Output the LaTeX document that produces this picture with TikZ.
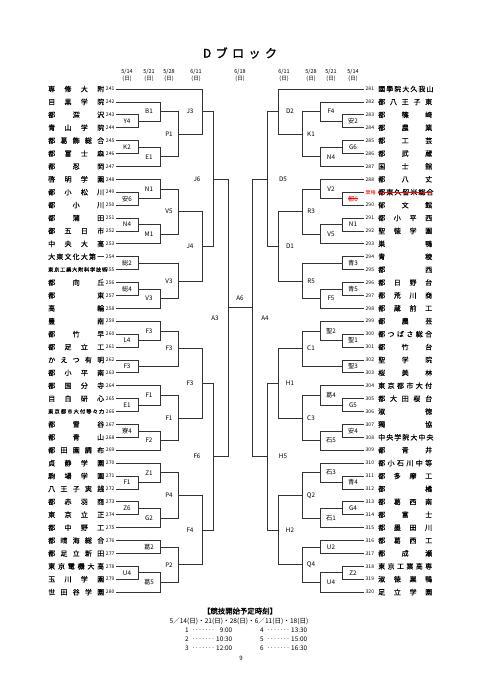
\documentclass[tikz,border=0pt]{standalone}
\usepackage{fontspec}
\setmainfont{Noto Sans CJK JP}
\newfontfamily\boldj{Noto Sans CJK JP}[FakeBold=1.5]
\newfontfamily\semij{Noto Sans CJK JP}[FakeBold=0.25]
\usetikzlibrary{calc}
\tikzset{
 br/.style={draw=black!80, line width=0.65pt},
 lab/.style={font=\fontsize{6.3}{7}\selectfont, inner sep=0pt},
 num/.style={font=\fontsize{5}{6}\selectfont, inner sep=0pt},
 nm/.style={font=\semij\fontsize{7}{8}\selectfont, inner sep=0pt},
 sm/.style={font=\semij\fontsize{5.2}{6}\selectfont},
 hdr/.style={font=\fontsize{5.5}{6}\selectfont, inner sep=0pt},
 tm/.style={font=\fontsize{6.4}{7}\selectfont, inner sep=0pt, anchor=west},
}
\newcommand\tmL[3]{%
 \pgfmathsetmacro\yy{89+12.9*(#1-241)}%
 \coordinate (t#1) at (116,\yy);
 \node[num, anchor=east] (n#1) at (114.5,\yy) {#1};
 \node[nm, anchor=west, #3] (s#1) at (48,\yy) {\makebox[56pt][s]{#2}};
}
\newcommand\tmR[3]{%
 \pgfmathsetmacro\yy{89+12.9*(#1-281)}%
 \coordinate (t#1) at (363.5,\yy);
 \node[num, anchor=west] (n#1) at (365.5,\yy) {#1};
 \node[nm, anchor=west, #3] (s#1) at (378,\yy) {\makebox[54pt][s]{#2}};
}
\newcommand\mL[5]{%
 \draw[br] (#3) -- (#3 -| cL#2) -- (#4 -| cL#2) -- (#4);
 \coordinate (#1) at ($(#3 -| cL#2)!0.5!(#4 -| cL#2)$);
 \node[lab] (#1l) at (#1 -| lL#2) {#5};
}
\newcommand\mR[5]{%
 \draw[br] (#3) -- (#3 -| cR#2) -- (#4 -| cR#2) -- (#4);
 \coordinate (#1) at ($(#3 -| cR#2)!0.5!(#4 -| cR#2)$);
 \node[lab] (#1l) at (#1 -| lR#2) {#5};
}
\newcommand\dotsline{\leaders\hbox to 3.3pt{\hss·\hss}\hfill}
\newcommand\tline[2]{\makebox[47pt][l]{#1\dotsline\makebox[17pt][r]{#2}}}
\begin{document}
\begin{tikzpicture}[x=1pt,y=-1pt]
\useasboundingbox (0,0) rectangle (481,680);
\fill[white] (0,0) rectangle (481,680);
% columns
\coordinate (cL1) at (138,0); \coordinate (cL2) at (160,0); \coordinate (cL3) at (178,0);
\coordinate (cL4) at (202,0); \coordinate (cL5) at (213,0); \coordinate (cLA) at (228,0);
\coordinate (lL1) at (127,0); \coordinate (lL2) at (149,0); \coordinate (lL3) at (169,0);
\coordinate (lL4) at (190,0); \coordinate (lL5) at (197,0); \coordinate (lLA) at (215,0);
\coordinate (cR1) at (342,0); \coordinate (cR2) at (320,0); \coordinate (cR3) at (302,0);
\coordinate (cR4) at (278,0); \coordinate (cR5) at (267,0); \coordinate (cRA) at (252,0);
\coordinate (lR1) at (353,0); \coordinate (lR2) at (331,0); \coordinate (lR3) at (311,0);
\coordinate (lR4) at (290,0); \coordinate (lR5) at (283,0); \coordinate (lRA) at (265,0);
% title and dates
\node[font=\boldj\fontsize{12}{14}\selectfont, inner sep=0pt] (title) at (240,53) {\makebox[74pt][s]{D ブ ロ ッ ク}};
\foreach \x/\d [count=\i] in {127/5\slash14,149/5\slash21,169/5\slash28,196/6\slash11,240/6\slash18,284/6\slash11,311/5\slash28,331/5\slash21,353/5\slash14}{
 \node[hdr] (d\i) at (\x,72) {\d};
 \node[hdr] (w\i) at (\x,79) {(日)};
}
% left teams
\tmL{241}{専 修 大 附}{}
\tmL{242}{目 黒 学 院}{}
\tmL{243}{都 深 沢}{}
\tmL{244}{青 山 学 院}{}
\tmL{245}{都 葛 飾 総 合}{}
\tmL{246}{都 富 士 森}{}
\tmL{247}{都 忍 岡}{}
\tmL{248}{啓 明 学 園}{}
\tmL{249}{都 小 松 川}{}
\tmL{250}{都 小 川}{}
\tmL{251}{都 蒲 田}{}
\tmL{252}{都 五 日 市}{}
\tmL{253}{中 央 大 高}{}
\tmL{254}{大 東 文 化 大 第 一}{}
\tmL{255}{東 京 工 業 大 附 科 学 技 術}{sm}
\tmL{256}{都 向 丘}{}
\tmL{257}{都 東}{}
\tmL{258}{高 輪}{}
\tmL{259}{豊 南}{}
\tmL{260}{都 竹 早}{}
\tmL{261}{都 足 立 工}{}
\tmL{262}{か え つ 有 明}{}
\tmL{263}{都 小 平 南}{}
\tmL{264}{都 国 分 寺}{}
\tmL{265}{目 白 研 心}{}
\tmL{266}{東 京 都 市 大 付 等 々 力}{sm}
\tmL{267}{都 雪 谷}{}
\tmL{268}{都 青 山}{}
\tmL{269}{都 田 園 調 布}{}
\tmL{270}{貞 静 学 園}{}
\tmL{271}{駒 場 学 園}{}
\tmL{272}{八 王 子 実 践}{}
\tmL{273}{都 赤 羽 商}{}
\tmL{274}{東 京 立 正}{}
\tmL{275}{都 中 野 工}{}
\tmL{276}{都 晴 海 総 合}{}
\tmL{277}{都 足 立 新 田}{}
\tmL{278}{東 京 電 機 大 高}{}
\tmL{279}{玉 川 学 園}{}
\tmL{280}{世 田 谷 学 園}{}
% right teams
\tmR{281}{國 學 院 大 久 我 山}{}
\tmR{282}{都 八 王 子 東}{}
\tmR{283}{都 篠 崎}{}
\tmR{284}{都 農 業}{}
\tmR{285}{都 工 芸}{}
\tmR{286}{都 武 蔵}{}
\tmR{287}{国 士 舘}{}
\tmR{288}{都 八 丈}{}
\pgfmathsetmacro\yy{89+12.9*8}
\coordinate (t289) at (363.5,\yy);
\node[num, anchor=west, text=red] (n289) at (365.5,\yy) {棄権};
\node[nm, anchor=west] (s289) at (378,\yy) {\makebox[54pt][s]{都 東 久 留 米 総 合}};
\draw[red, line width=0.5pt] (s289.west) -- (s289.east);
\tmR{290}{郁 文 館}{}
\tmR{291}{都 小 平 西}{}
\tmR{292}{聖 徳 学 園}{}
\tmR{293}{巣 鴨}{}
\tmR{294}{青 稜}{}
\tmR{295}{都 西}{}
\tmR{296}{都 日 野 台}{}
\tmR{297}{都 荒 川 商}{}
\tmR{298}{都 蔵 前 工}{}
\tmR{299}{都 農 芸}{}
\tmR{300}{都 つ ば さ 総 合}{}
\tmR{301}{都 竹 台}{}
\tmR{302}{聖 学 院}{}
\tmR{303}{桜 美 林}{}
\tmR{304}{東 京 都 市 大 付}{}
\tmR{305}{都 大 田 桜 台}{}
\tmR{306}{淑 徳}{}
\tmR{307}{獨 協}{}
\tmR{308}{中 央 学 院 大 中 央}{}
\tmR{309}{都 青 井}{}
\tmR{310}{都 小 石 川 中 等}{}
\tmR{311}{都 多 摩 工}{}
\tmR{312}{都 橘}{}
\tmR{313}{都 葛 西 南}{}
\tmR{314}{都 富 士}{}
\tmR{315}{都 墨 田 川}{}
\tmR{316}{都 葛 西 工}{}
\tmR{317}{都 成 瀬}{}
\tmR{318}{東 京 工 業 高 専}{}
\tmR{319}{淑 徳 巣 鴨}{}
\tmR{320}{足 立 学 園}{}
% left bracket
\mL{mY4}{1}{t243}{t244}{Y4}
\mL{mB1}{2}{t242}{mY4}{B1}
\mL{mK2}{1}{t245}{t246}{K2}
\mL{mE1}{2}{mK2}{t247}{E1}
\mL{mP1}{3}{mB1}{mE1}{P1}
\mL{mJ3}{4}{t241}{mP1}{J3}
\mL{mA6}{1}{t249}{t250}{安6}
\mL{mN1}{2}{t248}{mA6}{N1}
\mL{mN4}{1}{t251}{t252}{N4}
\mL{mM1}{2}{mN4}{t253}{M1}
\mL{mV5}{3}{mN1}{mM1}{V5}
\mL{mS2}{1}{t254}{t255}{総2}
\mL{mS4}{1}{t256}{t257}{総4}
\mL{mV3b}{2}{mS4}{t258}{V3}
\mL{mV3a}{3}{mS2}{mV3b}{V3}
\mL{mJ4}{4}{mV5}{mV3a}{J4}
\mL{mJ6}{5}{mJ3}{mJ4}{J6}
\mL{mL4}{1}{t260}{t261}{L4}
\mL{mF3b}{2}{t259}{mL4}{F3}
\mL{mF3c}{1}{t262}{t263}{F3}
\mL{mF3a}{3}{mF3b}{mF3c}{F3}
\mL{mE1b}{1}{t265}{t266}{E1}
\mL{mF1b}{2}{t264}{mE1b}{F1}
\mL{mR4}{1}{t267}{t268}{寮4}
\mL{mF2}{2}{mR4}{t269}{F2}
\mL{mF1a}{3}{mF1b}{mF2}{F1}
\mL{mF3d}{4}{mF3a}{mF1a}{F3}
\mL{mF1c}{1}{t271}{t272}{F1}
\mL{mZ1}{2}{t270}{mF1c}{Z1}
\mL{mZ6}{1}{t273}{t274}{Z6}
\mL{mG2}{2}{mZ6}{t275}{G2}
\mL{mP4}{3}{mZ1}{mG2}{P4}
\mL{mK2b}{2}{t276}{t277}{葛2}
\mL{mU4}{1}{t278}{t279}{U4}
\mL{mK5}{2}{mU4}{t280}{葛5}
\mL{mP2}{3}{mK2b}{mK5}{P2}
\mL{mF4}{4}{mP4}{mP2}{F4}
\mL{mF6}{5}{mF3d}{mF4}{F6}
\mL{mA3}{A}{mJ6}{mF6}{A3}
% right bracket
\mR{rS2}{1}{t283}{t284}{安2}
\mR{rF4}{2}{t282}{rS2}{F4}
\mR{rG6}{1}{t285}{t286}{G6}
\mR{rN4}{2}{rG6}{t287}{N4}
\mR{rK1}{3}{rF4}{rN4}{K1}
\mR{rD2}{4}{t281}{rK1}{D2}
\mR{rT6}{1}{t289}{t290}{\textcolor{red}{都6}}
\draw[red, line width=0.5pt] (rT6l.west) -- (rT6l.east);
\mR{rV2}{2}{t288}{rT6}{V2}
\mR{rN1}{1}{t291}{t292}{N1}
\mR{rV5}{2}{rN1}{t293}{V5}
\mR{rR3}{3}{rV2}{rV5}{R3}
\mR{rB3}{1}{t294}{t295}{青3}
\mR{rB5}{1}{t296}{t297}{青5}
\mR{rF5}{2}{rB5}{t298}{F5}
\mR{rR5}{3}{rB3}{rF5}{R5}
\mR{rD1}{4}{rR3}{rR5}{D1}
\mR{rD5}{5}{rD2}{rD1}{D5}
\mR{rS1}{1}{t300}{t301}{聖1}
\mR{rS2b}{2}{t299}{rS1}{聖2}
\mR{rS3}{1}{t302}{t303}{聖3}
\mR{rC1}{3}{rS2b}{rS3}{C1}
\mR{rG5}{1}{t305}{t306}{G5}
\mR{rK4}{2}{t304}{rG5}{葛4}
\mR{rY4}{1}{t307}{t308}{安4}
\mR{rI5}{2}{rY4}{t309}{石5}
\mR{rC3}{3}{rK4}{rI5}{C3}
\mR{rH1}{4}{rC1}{rC3}{H1}
\mR{rB4}{1}{t311}{t312}{青4}
\mR{rI3}{2}{t310}{rB4}{石3}
\mR{rG4}{1}{t313}{t314}{G4}
\mR{rI1}{2}{rG4}{t315}{石1}
\mR{rQ2}{3}{rI3}{rI1}{Q2}
\mR{rU2}{2}{t316}{t317}{U2}
\mR{rZ2}{1}{t318}{t319}{Z2}
\mR{rU4}{2}{rZ2}{t320}{U4}
\mR{rQ4}{3}{rU2}{rU4}{Q4}
\mR{rH2}{4}{rQ2}{rQ4}{H2}
\mR{rH5}{5}{rH1}{rH2}{H5}
\mR{rA4}{A}{rD5}{rH5}{A4}
% final
\coordinate (fy) at (0,307);
\coordinate (fL) at (fy -| cLA);
\coordinate (fR) at (fy -| cRA);
\draw[br] (fL) -- (fR);
\node[lab] (lA6) at ($(fL)!0.5!(fR)+(0,-9)$) {A6};
% schedule
\node[font=\boldj\fontsize{7.4}{8}\selectfont, inner sep=0pt] (sch) at (240,611) {【競技開始予定時刻】};
\node[font=\fontsize{6.6}{7}\selectfont, inner sep=0pt] (dl) at (239,621) {5／14(日)・21(日)・28(日)・6／11(日)・18(日)};
\node[tm] (g1) at (185,630) {\tline{1}{9:00}};
\node[tm] (g2) at (185,639) {\tline{2}{10:30}};
\node[tm] (g3) at (185,648) {\tline{3}{12:00}};
\node[tm] (g4) at (260,630) {\tline{4}{13:30}};
\node[tm] (g5) at (260,639) {\tline{5}{15:00}};
\node[tm] (g6) at (260,648) {\tline{6}{16:30}};
\node[font=\fontsize{6}{7}\selectfont, inner sep=0pt] (pg) at (241,658) {9};
\end{tikzpicture}
\end{document}
